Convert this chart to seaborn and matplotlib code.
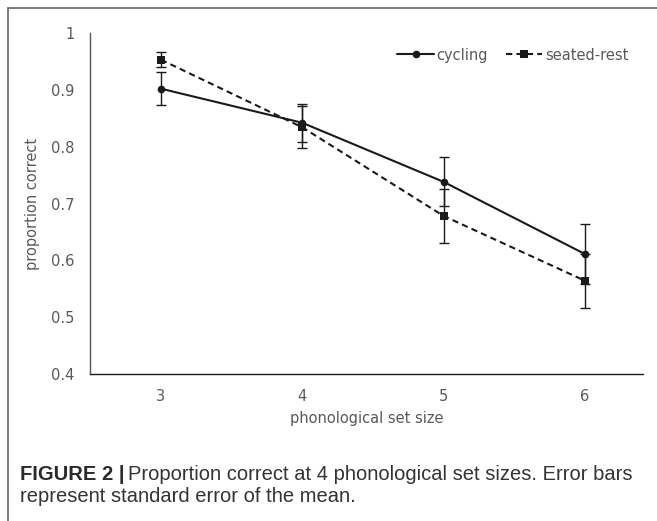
import numpy as np
import pandas as pd
import seaborn as sns
import matplotlib.pyplot as plt
from matplotlib.lines import Line2D

# values
set_sizes = [3, 4, 5, 6]
cycling = [0.902, 0.842, 0.738, 0.611]
cycling_se = [0.029, 0.033, 0.043, 0.053]
seated = [0.953, 0.834, 0.678, 0.564]
seated_se = [0.013, 0.037, 0.048, 0.048]
conditions = ['cycling', 'seated-rest']
y_ticks = [0.4, 0.5, 0.6, 0.7, 0.8, 0.9, 1.0]
y_labels = ['0.4', '0.5', '0.6', '0.7', '0.8', '0.9', '1']

df = pd.DataFrame({
    'set size': set_sizes * 2,
    'proportion': cycling + seated,
    'se': cycling_se + seated_se,
    'condition': [conditions[0]] * 4 + [conditions[1]] * 4,
})

sns.set_style('white')
plt.rcParams['font.family'] = ['DejaVu Sans']
txt_col = '#595959'
ink = '#1a1a1a'

W, H = 657, 521
fig = plt.figure(figsize=(W / 100, H / 100), dpi=100)
ax = fig.add_axes([90 / W, 1 - 374 / H, (643 - 90) / W, (374 - 33) / H])

for cond in conditions:
    sub = df[df['condition'] == cond]
    ax.errorbar(sub['set size'], sub['proportion'], yerr=sub['se'], fmt='none',
                ecolor=ink, elinewidth=1.0, capsize=3.5, capthick=1.0, zorder=2)

sns.lineplot(data=df, x='set size', y='proportion', style='condition',
             markers={'cycling': 'o', 'seated-rest': 's'},
             dashes={'cycling': '', 'seated-rest': (3, 2)},
             color=ink, linewidth=1.5, markersize=5.5, markeredgewidth=0,
             ax=ax, legend=False, zorder=3)

handles = [
    Line2D([], [], color=ink, lw=1.5, marker='o', markersize=5.5, markeredgewidth=0),
    Line2D([], [], color=ink, lw=1.5, ls=(0, (3, 2)), marker='s', markersize=5.5,
           markeredgewidth=0),
]
ax.legend(handles, conditions, ncol=2, frameon=False, loc='upper right',
          bbox_to_anchor=(1.0, 1.0), handlelength=2.5, handletextpad=0.2,
          columnspacing=1.2, fontsize=10.5, labelcolor=txt_col,
          borderaxespad=0.6)

ax.set_xlim(2.498, 6.41)
ax.set_ylim(0.4, 1.0)
ax.set_xticks(set_sizes)
ax.set_xticklabels([str(s) for s in set_sizes])
ax.set_yticks(y_ticks)
ax.set_yticklabels(y_labels)
ax.tick_params(axis='both', length=0, labelsize=10.5, labelcolor=txt_col)
ax.tick_params(axis='x', pad=11)
ax.tick_params(axis='y', pad=11)
ax.set_xlabel('phonological set size', fontsize=10.5, color=txt_col, labelpad=5)
ax.set_ylabel('proportion correct', fontsize=10.5, color=txt_col, labelpad=8)
ax.grid(False)
for side in ['top', 'right']:
    ax.spines[side].set_visible(False)
ax.spines['left'].set_color('#555555')
ax.spines['left'].set_linewidth(1.0)
ax.spines['bottom'].set_color(ink)
ax.spines['bottom'].set_linewidth(1.0)

# outer frame (top and left only, as cropped in the original)
fig.add_artist(Line2D([8 / W, 1], [1 - 8 / H, 1 - 8 / H], color='#666666', lw=1.2,
                      transform=fig.transFigure))
fig.add_artist(Line2D([8 / W, 8 / W], [0, 1 - 8 / H], color='#666666', lw=1.2,
                      transform=fig.transFigure))

# caption
cap_font = ['Liberation Sans', 'DejaVu Sans']
t1 = fig.text(20 / W, 1 - 474 / H, 'FIGURE 2 |', fontsize=14.5, fontweight='bold',
              color='#2a2a2a', family=cap_font, va='center')
fig.canvas.draw()
bb = t1.get_window_extent()
fig.text((bb.x1 + 3) / W, 1 - 474 / H,
         'Proportion correct at 4 phonological set sizes. Error bars',
         fontsize=14.5, color='#333333', family=cap_font, va='center')
fig.text(20 / W, 1 - 497 / H, 'represent standard error of the mean.',
         fontsize=14.5, color='#333333', family=cap_font, va='center')

fig.savefig('out.png', dpi=100)
